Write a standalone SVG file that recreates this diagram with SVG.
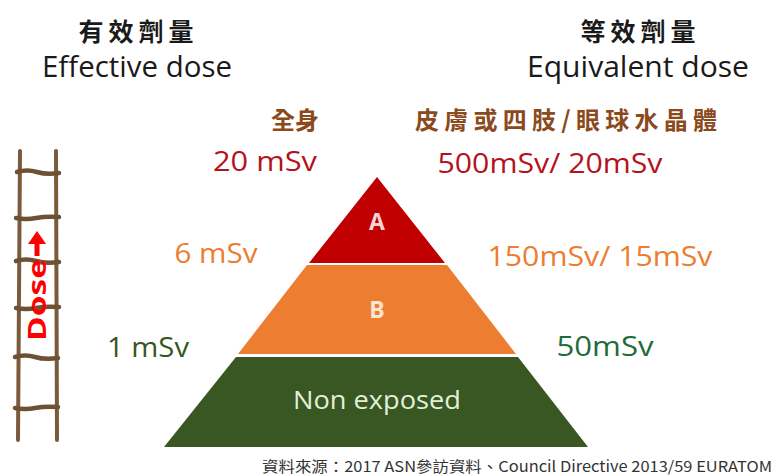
<svg xmlns="http://www.w3.org/2000/svg" width="775" height="475" viewBox="0 0 775 475">
  <style>
    .cjk { font-family: "Noto Sans CJK TC", "Noto Sans CJK SC", sans-serif; }
    .lat { font-family: "Open Sans", "Noto Sans", "Liberation Sans", sans-serif; }
    .head { fill: #1a1a1a; }
    .brown { fill: #8B4A1C; }
    .red { fill: #B5121B; }
    .orange { fill: #ED7D31; }
    .green1 { fill: #375623; }
    .green2 { fill: #1F6B3C; }
    .rail { stroke: #7A5A3A; stroke-width: 4; stroke-linecap: round; fill: none; }
    .rung { stroke: #6E5034; stroke-width: 4.5; stroke-linecap: round; fill: none; }
  </style>
  <rect width="775" height="475" fill="#ffffff"/>

  <!-- column headings -->
  <g id="heading-left">
    <text class="cjk head" x="136" y="41" font-size="25" font-weight="bold" text-anchor="middle" textLength="115">有效劑量</text>
    <text class="lat head" x="137" y="77" font-size="29" text-anchor="middle" textLength="190" lengthAdjust="spacingAndGlyphs">Effective dose</text>
  </g>
  <g id="heading-right">
    <text class="cjk head" x="638" y="41" font-size="25" font-weight="bold" text-anchor="middle" textLength="115">等效劑量</text>
    <text class="lat head" x="638" y="77" font-size="29" text-anchor="middle" textLength="222" lengthAdjust="spacingAndGlyphs">Equivalent dose</text>
  </g>
  <g id="label-whole-body">
    <text class="cjk brown" x="295" y="129" font-size="24" font-weight="bold" text-anchor="middle">全身</text>
  </g>
  <g id="label-skin-lens">
    <text class="cjk brown" x="566" y="129" font-size="24" font-weight="bold" text-anchor="middle" textLength="302">皮膚或四肢/眼球水晶體</text>
  </g>

  <!-- dose limits -->
  <g id="limit-20">
    <text class="lat red" x="265" y="171" font-size="27" text-anchor="middle" textLength="104" lengthAdjust="spacingAndGlyphs">20 mSv</text>
  </g>
  <g id="limit-500-20">
    <text class="lat red" x="550" y="173" font-size="27" text-anchor="middle" textLength="225" lengthAdjust="spacingAndGlyphs">500mSv/ 20mSv</text>
  </g>
  <g id="limit-6">
    <text class="lat orange" x="216" y="263" font-size="27" text-anchor="middle" textLength="83" lengthAdjust="spacingAndGlyphs">6 mSv</text>
  </g>
  <g id="limit-150-15">
    <text class="lat orange" x="600" y="266" font-size="27" text-anchor="middle" textLength="225" lengthAdjust="spacingAndGlyphs">150mSv/ 15mSv</text>
  </g>
  <g id="limit-1">
    <text class="lat green1" x="148" y="357" font-size="27" text-anchor="middle" textLength="82" lengthAdjust="spacingAndGlyphs">1 mSv</text>
  </g>
  <g id="limit-50">
    <text class="lat green2" x="605" y="356" font-size="27" text-anchor="middle" textLength="97" lengthAdjust="spacingAndGlyphs">50mSv</text>
  </g>

  <!-- pyramid tiers -->
  <g id="tier-a">
    <polygon points="377,177 445,263 309,263" fill="#C00000"/>
    <text class="lat" x="377" y="230" font-size="23" font-weight="bold" fill="#F8D3D3" text-anchor="middle">A</text>
  </g>
  <g id="tier-b">
    <polygon points="307,265 447,265 516,354 238,354" fill="#ED7D31"/>
    <text class="lat" x="377" y="318" font-size="23" font-weight="bold" fill="#FCE4D2" text-anchor="middle">B</text>
  </g>
  <g id="tier-non-exposed">
    <polygon points="236,357 518,357 588,447 164,447" fill="#385723"/>
    <text class="lat" x="377" y="409" font-size="26" fill="#E2F0D9" text-anchor="middle" textLength="168" lengthAdjust="spacingAndGlyphs">Non exposed</text>
  </g>

  <!-- rope ladder with dose arrow -->
  <g id="ladder">
    <line class="rail" x1="20" y1="151" x2="18" y2="440"/>
    <line class="rail" x1="56" y1="151" x2="57" y2="440"/>
    <path class="rung" d="M17,172 q10,-3 20,0 t22,1"/>
    <path class="rung" d="M16,218 q10,2 20,0 t23,-1"/>
    <path class="rung" d="M16,261 q10,-3 20,0 t23,1"/>
    <path class="rung" d="M16,308 q10,2 20,0 t23,-1"/>
    <path class="rung" d="M15,357 q10,-3 20,0 t23,1"/>
    <path class="rung" d="M15,408 q10,2 20,0 t23,-1"/>
    <text class="lat" transform="translate(46,300) rotate(-90)" font-size="25" font-weight="bold" fill="#FF0000" text-anchor="middle" textLength="82" lengthAdjust="spacingAndGlyphs">Dose</text>
    <path d="M37,256 V243" stroke="#FF0000" stroke-width="5" fill="none"/>
    <polygon points="37,231 46,244 28,244" fill="#FF0000"/>
  </g>

  <!-- source note -->
  <g id="source">
    <text class="cjk" x="262" y="472" font-size="15" fill="#333333" textLength="510" lengthAdjust="spacingAndGlyphs">資料來源：2017 ASN參訪資料、Council Directive 2013/59 EURATOM</text>
  </g>
</svg>
